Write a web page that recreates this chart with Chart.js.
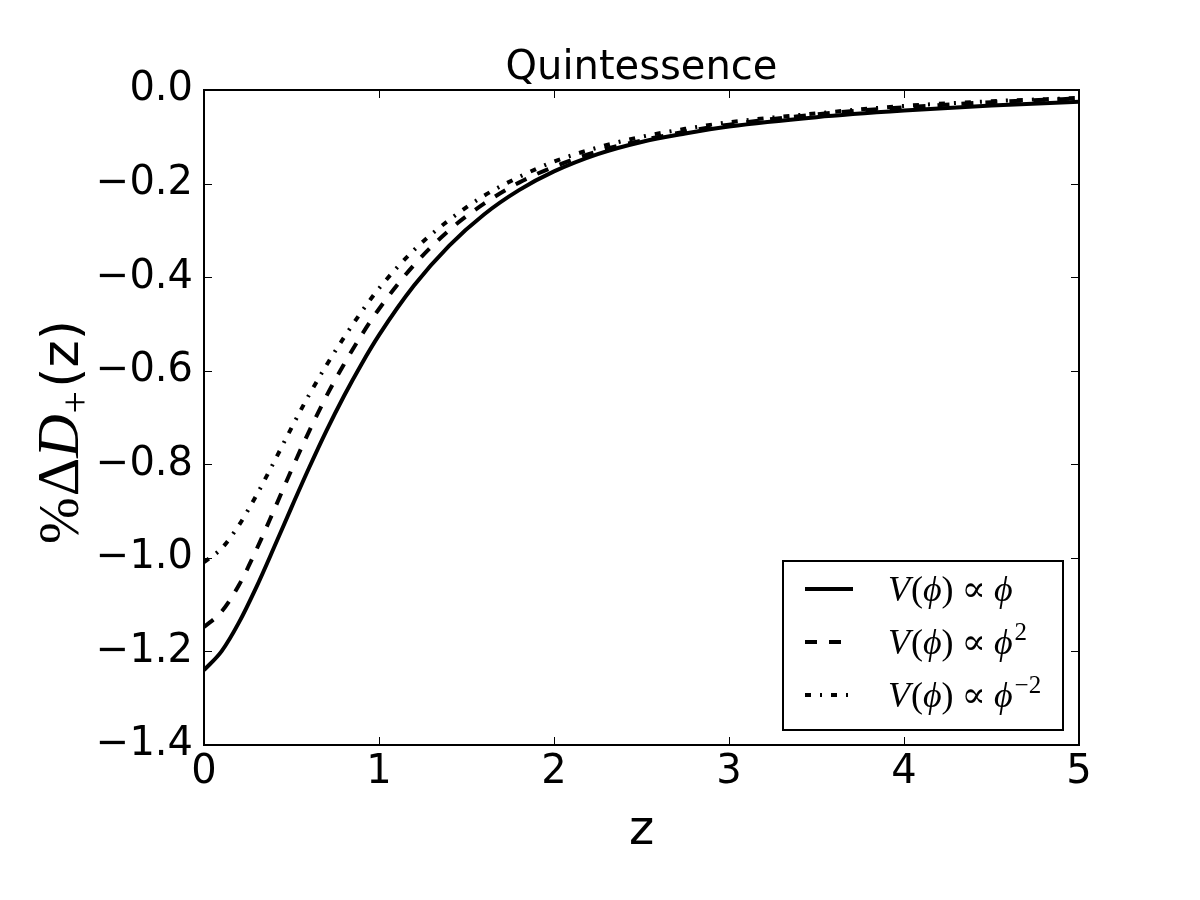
<!DOCTYPE html>
<html>
<head>
<meta charset="utf-8">
<script src="https://cdn.jsdelivr.net/npm/chart.js@4"></script>
<style>
  body { margin: 0; background: #fff; }
  canvas { display: block; }
</style>
</head>
<body>
<canvas id="chart" width="1200" height="900"></canvas>
<script>
// redshift samples
const zValues = [0, 0.1, 0.2, 0.3, 0.4, 0.5, 0.6, 0.7, 0.8, 0.9, 1.0, 1.2, 1.4, 1.6, 1.8, 2.0, 2.25, 2.5, 2.75, 3.0, 3.5, 4.0, 4.5, 5.0];

// %ΔD+(z) for each potential
const linearPot = [-1.240, -1.200, -1.138, -1.062, -0.978, -0.892, -0.808, -0.728, -0.654, -0.586, -0.524, -0.418, -0.333, -0.266, -0.214, -0.174, -0.137, -0.111, -0.093, -0.078, -0.058, -0.044, -0.033, -0.025];
const quadPot = [-1.148, -1.115, -1.058, -0.982, -0.898, -0.812, -0.730, -0.654, -0.586, -0.524, -0.468, -0.374, -0.300, -0.243, -0.198, -0.164, -0.131, -0.108, -0.089, -0.074, -0.052, -0.037, -0.026, -0.018];
const inversePot = [-1.009, -0.980, -0.930, -0.866, -0.795, -0.722, -0.652, -0.588, -0.529, -0.474, -0.424, -0.342, -0.278, -0.226, -0.186, -0.153, -0.123, -0.100, -0.083, -0.069, -0.050, -0.034, -0.024, -0.017];

const xTicks = [0, 1, 2, 3, 4, 5];
const yTicks = [0, -0.2, -0.4, -0.6, -0.8, -1.0, -1.2, -1.4];

const sans = '"DejaVu Sans", sans-serif';
const serif = '"Liberation Serif", "DejaVu Serif", serif';

function points(ys) {
    return zValues.map((z, i) => ({ x: z, y: ys[i] }));
}

// draw a run of text pieces with different fonts, left to right
function drawParts(ctx, x, y, parts) {
    parts.forEach(p => {
        ctx.font = p.font;
        ctx.fillText(p.t, x, y + (p.dy || 0));
        x += ctx.measureText(p.t).width + (p.gap || 0);
    });
    return x;
}

function potentialLabel(power, size) {
    const it = 'italic ' + size + 'px ' + serif;
    const rm = size + 'px ' + serif;
    const parts = [
        { t: 'V', font: it, gap: 1 },
        { t: '(', font: rm },
        { t: 'ϕ', font: it },
        { t: ')', font: rm, gap: 8 },
        { t: '∝', font: rm, gap: 8 },
        { t: 'ϕ', font: it, gap: 2 }
    ];
    if (power) parts.push({ t: power, font: Math.round(size * 0.7) + 'px ' + serif, dy: -14 });
    return parts;
}

const framePlugin = {
    id: 'frame',
    afterDraw(chart) {
        const ctx = chart.ctx;
        const a = chart.chartArea;
        const sx = chart.scales.x, sy = chart.scales.y;
        ctx.save();

        // inward tick marks on all four sides
        ctx.strokeStyle = '#000';
        ctx.lineWidth = 1;
        ctx.beginPath();
        xTicks.forEach(v => {
            const px = Math.round(sx.getPixelForValue(v)) + 0.5;
            ctx.moveTo(px, a.bottom); ctx.lineTo(px, a.bottom - 8);
            ctx.moveTo(px, a.top); ctx.lineTo(px, a.top + 8);
        });
        yTicks.forEach(v => {
            const py = Math.round(sy.getPixelForValue(v)) + 0.5;
            ctx.moveTo(a.left, py); ctx.lineTo(a.left + 8, py);
            ctx.moveTo(a.right, py); ctx.lineTo(a.right - 8, py);
        });
        ctx.stroke();

        // axes frame
        ctx.lineWidth = 2;
        ctx.strokeRect(a.left, a.top, a.right - a.left, a.bottom - a.top);

        ctx.fillStyle = '#000';
        // title
        ctx.font = '40px ' + sans;
        ctx.textAlign = 'center';
        ctx.textBaseline = 'alphabetic';
        ctx.fillText('Quintessence', (a.left + a.right) / 2, 79);

        // x axis title
        ctx.font = '48px ' + sans;
        ctx.fillText('z', (a.left + a.right) / 2, 844);

        // y axis title, rotated
        ctx.save();
        ctx.translate(78, 432);
        ctx.rotate(-Math.PI / 2);
        ctx.textAlign = 'left';
        const yParts = [
            { t: '%', font: '56px ' + serif, gap: 1 },
            { t: 'Δ', font: '60px ' + serif },
            { t: 'D', font: 'italic 60px ' + serif, gap: 1 },
            { t: '+', font: '40px ' + serif, dy: 10, gap: 3 },
            { t: '(z)', font: '52px ' + sans }
        ];
        let w = 0;
        yParts.forEach(p => { ctx.font = p.font; w += ctx.measureText(p.t).width + (p.gap || 0); });
        drawParts(ctx, -w / 2, 0, yParts);
        ctx.restore();

        // legend box in the lower right
        const lx = 783, ly = 561, lw = 280, lh = 169;
        ctx.fillStyle = '#fff';
        ctx.fillRect(lx, ly, lw, lh);
        ctx.lineWidth = 2;
        ctx.strokeStyle = '#000';
        ctx.strokeRect(lx, ly, lw, lh);
        const powers = ['', '2', '−2'];
        chart.data.datasets.forEach((ds, i) => {
            const rowY = 589 + i * 53;
            ctx.save();
            ctx.strokeStyle = ds.borderColor;
            ctx.lineWidth = ds.borderWidth;
            ctx.lineCap = 'butt';
            ctx.setLineDash(ds.borderDash || []);
            ctx.beginPath();
            ctx.moveTo(805, rowY);
            ctx.lineTo(853, rowY);
            ctx.stroke();
            ctx.restore();
            ctx.fillStyle = '#000';
            ctx.textAlign = 'left';
            ctx.textBaseline = 'alphabetic';
            drawParts(ctx, 888, rowY + 12, potentialLabel(powers[i], 36));
        });
        ctx.restore();
    }
};

const ctx = document.getElementById('chart').getContext('2d');
new Chart(ctx, {
    type: 'line',
    data: {
        datasets: [{
            label: 'V(ϕ) ∝ ϕ',
            data: points(linearPot),
            borderColor: '#000',
            borderWidth: 4,
            pointRadius: 0,
            fill: false,
            cubicInterpolationMode: 'monotone'
        }, {
            label: 'V(ϕ) ∝ ϕ²',
            data: points(quadPot),
            borderColor: '#000',
            borderWidth: 4,
            borderDash: [12, 12],
            pointRadius: 0,
            fill: false,
            cubicInterpolationMode: 'monotone'
        }, {
            label: 'V(ϕ) ∝ ϕ⁻²',
            data: points(inversePot),
            borderColor: '#000',
            borderWidth: 4,
            borderDash: [6, 9, 2, 9],
            pointRadius: 0,
            fill: false,
            cubicInterpolationMode: 'monotone'
        }]
    },
    options: {
        responsive: false,
        animation: false,
        layout: { padding: { top: 90, right: 121, left: 0, bottom: 0 } },
        plugins: {
            legend: { display: false },
            tooltip: { enabled: false }
        },
        scales: {
            x: {
                type: 'linear',
                min: 0,
                max: 5,
                grid: { display: false, drawTicks: false },
                border: { display: false },
                ticks: {
                    stepSize: 1,
                    padding: 4,
                    color: '#000',
                    font: { family: sans, size: 40 },
                    callback: v => String(v)
                },
                afterFit: s => { s.height = 155; }
            },
            y: {
                min: -1.4,
                max: 0,
                grid: { display: false, drawTicks: false },
                border: { display: false },
                ticks: {
                    stepSize: 0.2,
                    padding: 11,
                    color: '#000',
                    font: { family: sans, size: 40 },
                    callback: v => (Math.abs(v) < 1e-9 ? '0.0' : v.toFixed(1).replace('-', '\u2212'))
                },
                afterFit: s => { s.width = 204; }
            }
        }
    },
    plugins: [framePlugin]
});
</script>
</body>
</html>
